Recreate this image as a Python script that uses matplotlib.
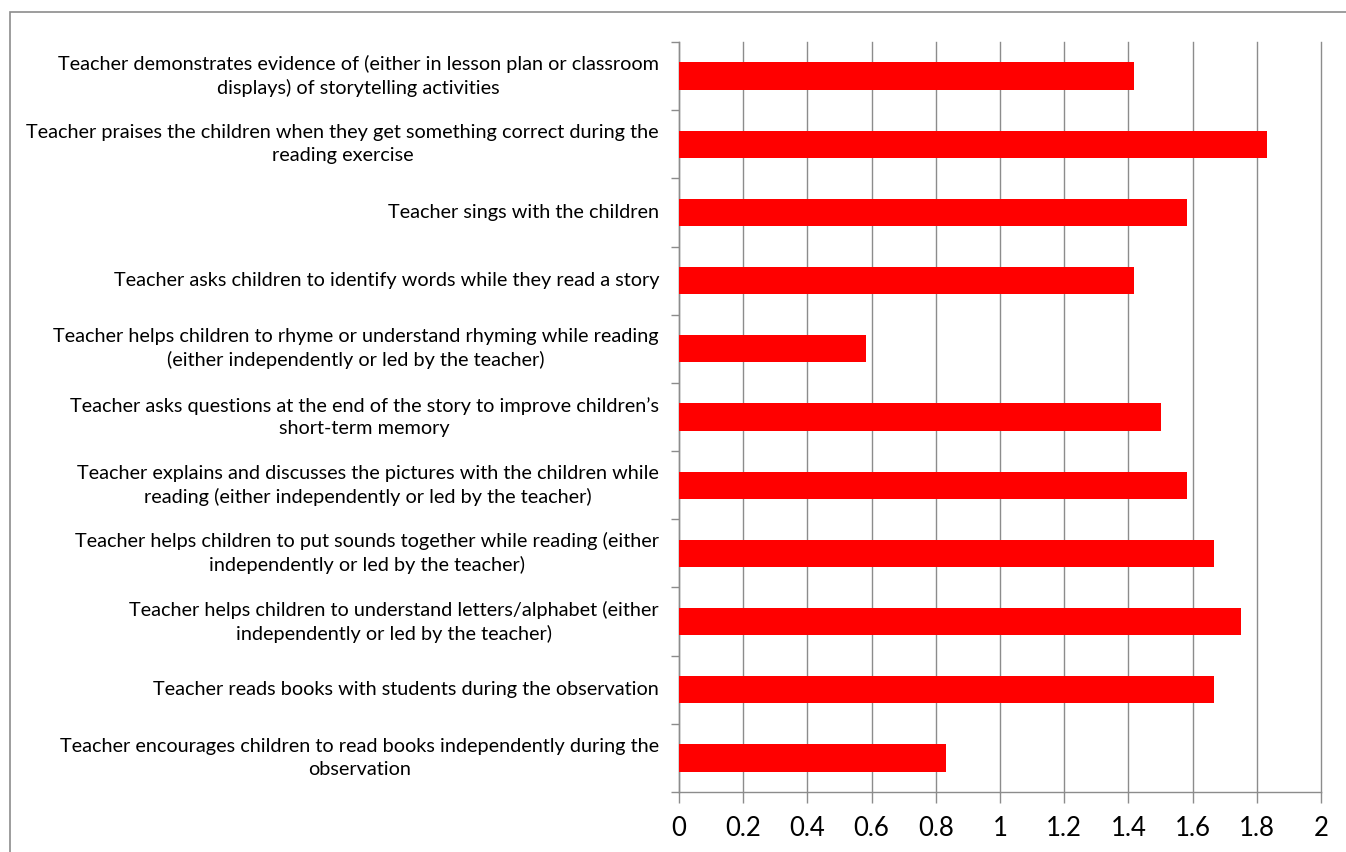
import matplotlib
matplotlib.use("Agg")
import matplotlib.pyplot as plt
from matplotlib.patches import Rectangle
from matplotlib.transforms import offset_copy

# ── Data (top to bottom) ──────────────────────────────────────────────────────
categories = [
    "Teacher demonstrates evidence of (either in lesson plan or classroom\ndisplays) of storytelling activities",
    "Teacher praises the children when they get something correct during the\nreading exercise",
    "Teacher sings with the children",
    "Teacher asks children to identify words while they read a story",
    "Teacher helps children to rhyme or understand rhyming while reading\n(either independently or led by the teacher)",
    "Teacher asks questions at the end of the story to improve children\u2019s\nshort-term memory",
    "Teacher explains and discusses the pictures with the children while\nreading (either independently or led by the teacher)",
    "Teacher helps children to put sounds together while reading (either\nindependently or led by the teacher)",
    "Teacher helps children to understand letters/alphabet (either\nindependently or led by the teacher)",
    "Teacher reads books with students during the observation",
    "Teacher encourages children to read books independently during the\nobservation",
]
scores = [1.417, 1.833, 1.583, 1.417, 0.583, 1.5, 1.583, 1.667, 1.75, 1.667, 0.833]
x_ticks = [0, 0.2, 0.4, 0.6, 0.8, 1.0, 1.2, 1.4, 1.6, 1.8, 2.0]
x_tick_labels = ["0", "0.2", "0.4", "0.6", "0.8", "1", "1.2", "1.4", "1.6", "1.8", "2"]

plt.rcParams["font.family"] = ["Lato", "DejaVu Sans"]
GRID = "#8c8c8c"

W, H = 1346, 852
fig = plt.figure(figsize=(W / 100, H / 100), dpi=100)
ax = fig.add_axes([679 / W, 1 - 792 / H, (1321 - 679) / W, (792 - 42) / H])

# chart-area frame (runs off the right and bottom edges)
fig.patches.append(Rectangle((10 / W, -0.05), 1.1, 1 - 12 / H + 0.05,
                             transform=fig.transFigure, fill=False,
                             edgecolor="#8c8c8c", linewidth=1.2))

n = len(categories)
ypos = list(range(n))
ax.barh(ypos, scores, height=0.4, color="#ff0000", zorder=3)

ax.set_xlim(0, 2)
ax.set_ylim(n - 0.5, -0.5)
ax.set_xticks(x_ticks)
ax.set_xticklabels(x_tick_labels, fontsize=18.5)
ax.grid(axis="x", color=GRID, linewidth=1.0, zorder=0)
for gl in ax.get_xgridlines():
    gl.set_clip_on(False)

# category boundaries carry the y ticks
ax.set_yticks([i - 0.5 for i in range(n + 1)])
ax.set_yticklabels([])
ax.tick_params(axis="y", length=6, color=GRID, width=1.0)
ax.tick_params(axis="x", length=8, color=GRID, width=1.0, pad=9)

# category labels: right-aligned block, centred lines, 20 px left of the axis
label_tf = offset_copy(ax.get_yaxis_transform(), fig=fig, x=-20, y=0, units="dots")
for i, label in enumerate(categories):
    ax.text(0, i, label, ha="right", va="center", multialignment="center",
            fontsize=14.3, linespacing=1.4, transform=label_tf, color="#000000")

for side in ("top", "right"):
    ax.spines[side].set_visible(False)
for side in ("left", "bottom"):
    ax.spines[side].set_color(GRID)
    ax.spines[side].set_linewidth(1.0)

fig.savefig("out.png", dpi=100)
